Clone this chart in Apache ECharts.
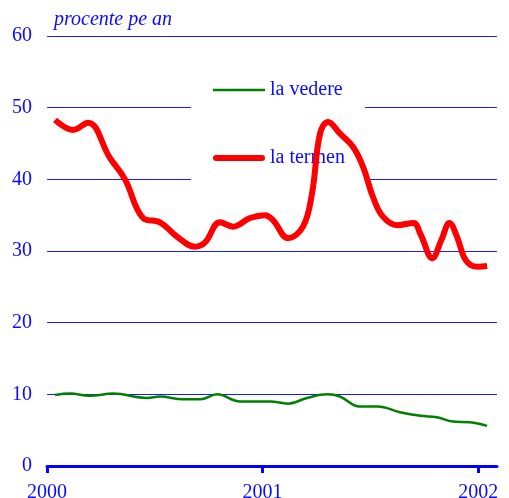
<!DOCTYPE html>
<html>
<head>
<meta charset="utf-8">
<script src="https://cdn.jsdelivr.net/npm/echarts@6/dist/echarts.min.js"></script>
<style>
html, body { margin: 0; padding: 0; background: #fff; }
#chart { width: 509px; height: 498px; }
</style>
</head>
<body>
<div id="chart"></div>
<script>
// x positions are months since January 2000
const yearTicks = [0, 12, 24];
const yearLabels = ["2000", "2001", "2002"];

const vedereMonths = [0.45, 1.28, 2.4, 3.67, 5.57, 6.29, 7.57, 8.52, 9.47, 10.75, 12.42, 13.42,
    14.48, 15.6, 16.3, 17.4, 18.4, 19.65, 20.8, 21.7, 22.6, 23.55, 24.5];
const vedereValues = [9.9, 10.1, 9.8, 10.1, 9.5, 9.7, 9.3, 9.3, 10.0, 9.0, 9.0, 8.7,
    9.5, 10.0, 9.7, 8.3, 8.3, 7.5, 7.0, 6.8, 6.2, 6.1, 5.6];

const termenMonths = [0.45, 1.45, 2.28, 3.5, 4.34, 5.35, 6.29, 7.24, 8.24, 8.8, 9.63, 10.36,
    11.3, 12.14, 12.58, 13.42, 14.25, 14.75, 15.2, 15.65, 16.3, 17.04, 17.6, 18.15,
    18.7, 19.5, 20.4, 20.8, 21.45, 21.95, 22.4, 22.85, 23.2, 23.6, 24.0, 24.5];
const termenValues = [48.3, 46.9, 47.9, 43.0, 40.0, 34.6, 34.0, 32.0, 30.6, 31.2, 34.0, 33.4,
    34.6, 35.0, 34.3, 31.8, 33.4, 38.0, 46.4, 48.0, 46.4, 44.5, 41.7, 37.5,
    34.8, 33.6, 33.9, 32.3, 29.0, 31.5, 33.9, 31.8, 29.2, 28.0, 27.8, 27.9];

const blue = "#0a0aff";
const serif = "'Liberation Serif', 'DejaVu Serif', serif";

// legend icons: a bar across a 52x14 box, with tiny corner dots keeping the box size
const thinIcon = "path://M0,0h0.01v0.01h-0.01z M51.99,13.99h0.01v0.01h-0.01z M0,5.75h52v2.5h-52z";
const thickIcon = "path://M0,0h0.01v0.01h-0.01z M51.99,13.99h0.01v0.01h-0.01z M3,4h46a3,3 0 0 1 0,6h-46a3,3 0 0 1 0,-6z";

function pairs(xs, ys) {
    return xs.map((x, i) => [x, ys[i]]);
}

function render_chart() {
    const chart = echarts.init(document.getElementById("chart"), null, { renderer: "canvas" });
    chart.setOption({
        animation: false,
        backgroundColor: "#fff",
        title: {
            text: "procente pe an",
            left: 54,
            top: 10,
            padding: 0,
            textStyle: { color: blue, fontFamily: serif, fontStyle: "italic", fontWeight: "normal", fontSize: 20 },
        },
        grid: { left: 47, right: 12, top: 36, bottom: 32, outerBoundsMode: "none" },
        legend: {
            orient: "vertical",
            left: 191,
            top: 60,
            z: 1,
            backgroundColor: "#fff",
            padding: [20, 20, 20, 22],
            itemWidth: 52,
            itemHeight: 14,
            itemGap: 48,
            textStyle: { color: blue, fontFamily: serif, fontSize: 20 },
            data: [
                { name: "la vedere", icon: thinIcon },
                { name: "la termen", icon: thickIcon },
            ],
        },
        xAxis: {
            type: "value",
            min: 0,
            max: 25.05,
            interval: 12,
            axisLine: { lineStyle: { color: "#0000ff", width: 3 } },
            axisTick: { show: true, length: 7, lineStyle: { color: "#0000ff", width: 3 }, customValues: yearTicks },
            axisLabel: {
                color: blue, fontFamily: serif, fontSize: 20, margin: 17,
                customValues: yearTicks,
                formatter: (v) => yearLabels[yearTicks.indexOf(v)] || "",
            },
            splitLine: { show: false },
        },
        yAxis: {
            type: "value",
            min: 0,
            max: 60,
            interval: 10,
            axisLine: { show: false },
            axisTick: { show: false },
            axisLabel: { color: blue, fontFamily: serif, fontSize: 20, margin: 15 },
            splitLine: { lineStyle: { color: "#1a1aff", width: 1 } },
        },
        series: [
            {
                name: "la vedere",
                type: "line",
                data: pairs(vedereMonths, vedereValues),
                smooth: 0.4,
                symbol: "none",
                color: "#008000",
                lineStyle: { color: "#008000", width: 2.5 },
                z: 3,
            },
            {
                name: "la termen",
                type: "line",
                data: pairs(termenMonths, termenValues),
                smooth: 0.4,
                symbol: "none",
                color: "#ff0000",
                lineStyle: { color: "#ff0000", width: 6 },
                z: 3,
            },
        ],
    });
}

window.addEventListener("load", render_chart);
</script>
</body>
</html>
